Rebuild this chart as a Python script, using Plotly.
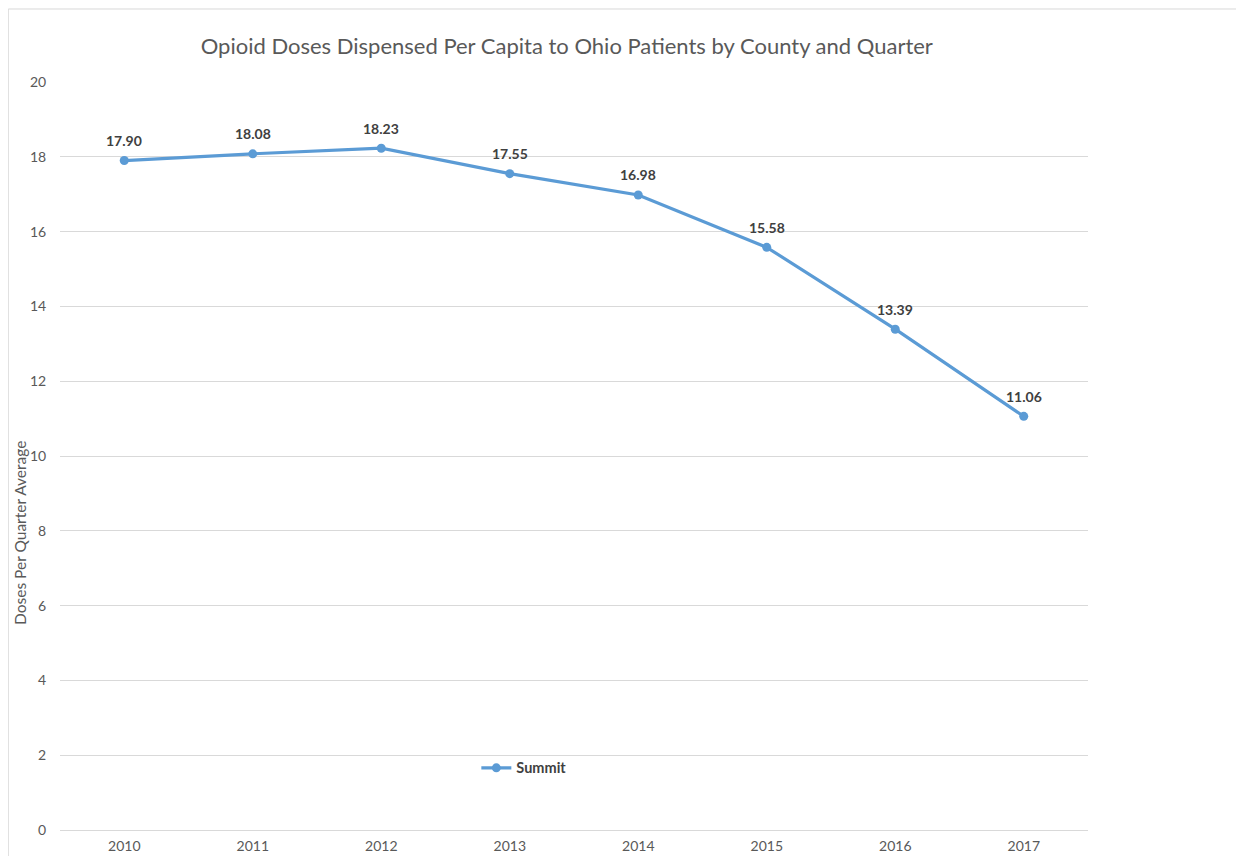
import plotly.graph_objects as go

years = ["2010", "2011", "2012", "2013", "2014", "2015", "2016", "2017"]
summit = [17.90, 18.08, 18.23, 17.55, 16.98, 15.58, 13.39, 11.06]
y_ticks = [0, 2, 4, 6, 8, 10, 12, 14, 16, 18, 20]

FONT = "Lato"
GREY = "#595959"
DARK = "#404040"
GRID = "#d9d9d9"
BLUE = "#5B9BD5"

fig = go.Figure()
fig.add_trace(go.Scatter(
    x=years, y=summit, name="Summit",
    mode="lines+markers",
    line=dict(color=BLUE, width=3.2),
    marker=dict(color=BLUE, size=9),
))

# data labels (category index positions on the category axis)
for i, v in enumerate(summit):
    fig.add_annotation(x=i, y=v, text=f"{v:.2f}", showarrow=False,
                       yshift=20, xanchor="center", yanchor="middle",
                       font=dict(family=FONT, size=14, color=DARK, weight="bold"))

fig.update_layout(
    width=1244, height=856,
    margin=dict(l=52, r=164, t=74, b=34, autoexpand=False),
    paper_bgcolor="white", plot_bgcolor="white",
    font=dict(family=FONT, color=GREY),
    title=dict(text="Opioid Doses Dispensed Per Capita to Ohio Patients by County and Quarter",
               x=0.493, xref="paper", xanchor="center",
               y=0.9556, yref="container", yanchor="middle",
               font=dict(family=FONT, size=22, color=GREY)),
    showlegend=True,
    legend=dict(x=0.405, y=0.083, xanchor="left", yanchor="middle",
                bgcolor="rgba(0,0,0,0)",
                font=dict(family=FONT, size=14.5, color=DARK, weight="bold")),
    xaxis=dict(type="category", range=[-0.5, 7.5], showgrid=False, showline=False,
               automargin=False,
               ticks="outside", ticklen=3, tickcolor="rgba(0,0,0,0)",
               tickfont=dict(family=FONT, size=14, color=GREY), zeroline=False),
    yaxis=dict(range=[0, 20], tickvals=y_ticks, showgrid=True, gridcolor=GRID, gridwidth=1,
               automargin=False,
               zeroline=True, zerolinecolor=GRID, zerolinewidth=1, showline=False,
               ticks="outside", ticklen=10, tickcolor="rgba(0,0,0,0)",
               tickfont=dict(family=FONT, size=14, color=GREY)),
)

fig.add_annotation(text="Doses Per Quarter Average", textangle=-90,
                   xref="paper", yref="paper", x=-0.039, y=0.397,
                   xanchor="center", yanchor="middle", showarrow=False,
                   font=dict(family=FONT, size=15.5, color=GREY))

# outer chart frame
fig.add_shape(type="line", xref="paper", yref="paper", x0=-0.0503, x1=1.2, y0=1.0976, y1=1.0976,
              line=dict(color=GRID, width=1))
fig.add_shape(type="line", xref="paper", yref="paper", x0=-0.0503, x1=-0.0503, y0=-0.1, y1=1.0976,
              line=dict(color=GRID, width=1))

fig.write_html("out.html")
